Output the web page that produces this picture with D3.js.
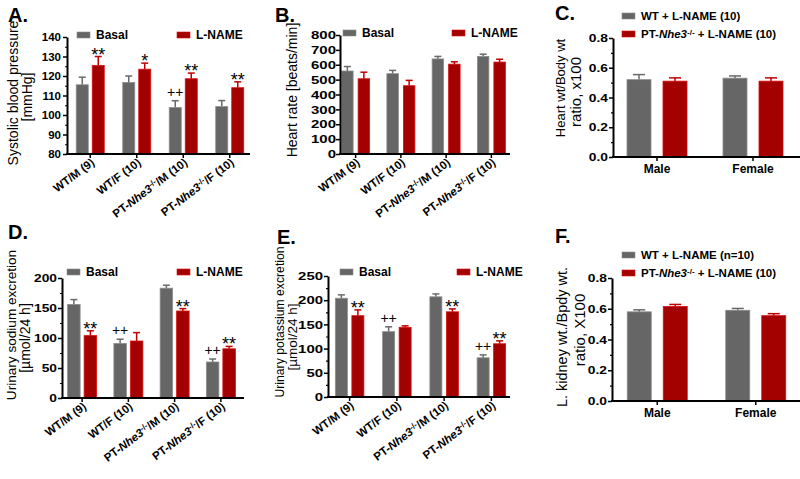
<!DOCTYPE html>
<html>
<head>
<meta charset="utf-8">
<script src="https://cdn.jsdelivr.net/npm/d3@7"></script>
<style>
  body { margin: 0; background: #fff; }
  svg text { font-family: Arial, "Liberation Sans", Helvetica, sans-serif; }
</style>
</head>
<body>
<div id="chart"></div>
<script>
var width = 800, height = 479;

// ---- data ----
var genoLabels = ["WT/M (9)", "WT/F (10)", "PT-Nhe3-/-/M (10)", "PT-Nhe3-/-/F (10)"];
var sexLabels = ["Male", "Female"];
var seriesTreat = ["Basal", "L-NAME"];
var seriesGeno = ["WT + L-NAME (10)", "PT-Nhe3-/- + L-NAME (10)"];
var seriesGenoF = ["WT + L-NAME (n=10)", "PT-Nhe3-/- + L-NAME (10)"];

// A. systolic blood pressure
var sbpBasal = [115.5, 116.7, 103.8, 104.3];
var sbpBasalErr = [3.9, 3.3, 3.5, 3.1];
var sbpLname = [125.4, 123.5, 118.6, 114.0];
var sbpLnameErr = [4.6, 3.1, 2.9, 3.0];
var sbpBasalSig = ["", "", "++", ""];
var sbpLnameSig = ["**", "*", "**", "**"];

// B. heart rate
var hrBasal = [558, 540, 639, 656];
var hrBasalErr = [30, 22, 17, 15];
var hrLname = [506, 459, 604, 618];
var hrLnameErr = [44, 36, 16, 19];

// C. heart wt / body wt
var hwWT = [0.52, 0.53];
var hwWTErr = [0.034, 0.015];
var hwKO = [0.51, 0.51];
var hwKOErr = [0.022, 0.022];

// D. urinary sodium
var naBasal = [156, 91, 183, 60];
var naBasalErr = [8, 7, 5, 5];
var naLname = [104, 95, 145, 82];
var naLnameErr = [8, 14, 4, 4];
var naBasalSig = ["", "++", "", "++"];
var naLnameSig = ["**", "", "**", "**"];

// E. urinary potassium
var kBasal = [204, 135, 207, 81];
var kBasalErr = [7, 10, 6, 6];
var kLname = [168, 144, 176, 110];
var kLnameErr = [12, 3, 6, 6];
var kBasalSig = ["", "++", "", "++"];
var kLnameSig = ["**", "", "**", "**"];

// F. kidney wt / body wt
var kwWT = [0.58, 0.59];
var kwWTErr = [0.013, 0.012];
var kwKO = [0.615, 0.555];
var kwKOErr = [0.013, 0.013];

var GRAY = "#666666", RED = "#a30000";

var svg = d3.select("#chart").append("svg")
  .attr("width", width).attr("height", height);

// write a label, italic gene name + superscript -/-
function richText(sel, str) {
  var m = str.match(/^(.*?)(Nhe3)(-\/-)(.*)$/);
  if (!m) { sel.text(str); return; }
  sel.append("tspan").text(m[1]);
  sel.append("tspan").style("font-style", "italic").text(m[2]);
  sel.append("tspan").attr("dy", "-0.45em").style("font-size", "0.7em").text(m[3]);
  sel.append("tspan").attr("dy", "0.32em").text(m[4]);
}

function drawPanel(p) {
  var g = svg.append("g");

  var y = d3.scaleLinear().domain(p.domain).range([p.yBot, p.yTop]);
  var x = d3.scaleBand().domain(p.cats).range(p.band);

  // bars
  p.series.forEach(function(s, si) {
    var off = si == 0 ? -p.gap / 2 - p.barW : p.gap / 2;
    var col = si == 0 ? GRAY : RED;
    var ecol = si == 0 ? "#6a6a6a" : "#c00000";
    p.cats.forEach(function(c, i) {
      var cx = x(c) + x.bandwidth() / 2;
      var bx = cx + off;
      var top = y(s.vals[i]), etop = y(s.vals[i] + s.err[i]);
      // error bar (upper only)
      g.append("line").attr("x1", bx + p.barW / 2).attr("x2", bx + p.barW / 2)
        .attr("y1", top).attr("y2", etop).attr("stroke", ecol).attr("stroke-width", 1.5);
      g.append("line").attr("x1", bx + p.barW / 2 - p.capW / 2).attr("x2", bx + p.barW / 2 + p.capW / 2)
        .attr("y1", etop).attr("y2", etop).attr("stroke", ecol).attr("stroke-width", 1.5);
      g.append("rect")
        .attr("x", bx).attr("y", top)
        .attr("width", p.barW).attr("height", p.yBot - top)
        .attr("fill", col)
        .attr("stroke", si == 0 ? "#8c8c8c" : "#d81010").attr("stroke-width", 0.8);
      if (s.sig && s.sig[i]) {
        var plus = s.sig[i].indexOf("+") >= 0;
        g.append("text").attr("x", bx + p.barW / 2)
          .attr("y", plus ? etop - 4 : etop + 4)
          .attr("text-anchor", "middle")
          .style("font-size", plus ? "14px" : "18px")
          .style("fill", "#000")
          .text(s.sig[i]);
      }
    });
  });

  // y axis
  var yAxis = d3.axisLeft(y).tickValues(p.ticks).tickSize(4).tickSizeOuter(0)
    .tickFormat(p.fmt);
  var ya = g.append("g").attr("transform", "translate(" + p.x0 + ",0)").call(yAxis);
  ya.select(".domain").attr("stroke-width", 2);
  ya.selectAll(".tick line").attr("stroke-width", 1.5);
  ya.selectAll(".tick text").style("font-size", "11.5px").style("font-weight", "bold")
    .attr("x", -p.labelGap / p.stretch)
    .attr("transform", "scale(" + p.stretch + ",1)")
    .attr("fill", "#000");
  if (p.minor) {
    var ym = g.append("g").attr("transform", "translate(" + p.x0 + ",0)")
      .call(d3.axisLeft(y).tickValues(p.minor).tickSize(2).tickFormat(""));
    ym.select(".domain").remove();
    ym.selectAll(".tick line").attr("stroke-width", 1.2);
  }

  // x axis
  g.append("line").attr("x1", p.x0 - 1).attr("x2", p.axisEnd)
    .attr("y1", p.yBot).attr("y2", p.yBot).attr("stroke", "#000").attr("stroke-width", 2);
  var xa = g.append("g").attr("transform", "translate(0," + p.yBot + ")")
    .call(d3.axisBottom(x).tickSize(4).tickSizeOuter(0).tickFormat(""));
  xa.select(".domain").remove();
  xa.selectAll(".tick line").attr("stroke-width", 1.5);

  p.cats.forEach(function(c, i) {
    var cx = x(c) + x.bandwidth() / 2;
    var t = g.append("text").style("font-weight", "bold").style("fill", "#000");
    if (p.rotate) {
      t.attr("text-anchor", "end").style("font-size", "11.5px")
        .attr("transform", "translate(" + (cx + 5) + "," + (p.yBot + 10) + ") rotate(-37)");
    } else {
      t.attr("text-anchor", "middle").style("font-size", "12px")
        .attr("x", cx).attr("y", p.yBot + 16);
    }
    richText(t, p.labels[i]);
  });

  // y title, each line with its own centre and size
  p.title.forEach(function(line, li) {
    g.append("text").attr("text-anchor", "middle")
      .attr("transform", "translate(" + p.titleX[li] + "," + p.titleY[li] + ") rotate(-90)")
      .attr("dy", "0.3em")
      .style("font-size", p.titleSize[li] + "px").style("fill", "#000")
      .text(line);
  });

  // legend
  p.legend.forEach(function(l, li) {
    g.append("rect").attr("x", l.x).attr("y", l.y - 3).attr("width", 13).attr("height", 6)
      .attr("fill", li == 0 ? GRAY : RED).attr("stroke", li == 0 ? "#8c8c8c" : "#d81010").attr("stroke-width", 0.6);
    var t = g.append("text").attr("x", l.x + 19).attr("y", l.y).attr("dy", "0.36em")
      .style("font-size", p.legendSize).style("font-weight", "bold").style("fill", "#000");
    richText(t, l.text);
  });

  // panel letter
  svg.append("text").attr("x", p.letter[0]).attr("y", p.letter[1])
    .style("font-size", "20px").style("font-weight", "bold").style("fill", "#000")
    .text(p.letter[2]);
}

function fmtInt(d) { return d3.format("d")(d); }
function fmtDec(d) { return d3.format(".1f")(d); }

drawPanel({
  cats: genoLabels, labels: genoLabels, rotate: true,
  series: [{vals: sbpBasal, err: sbpBasalErr, sig: sbpBasalSig}, {vals: sbpLname, err: sbpLnameErr, sig: sbpLnameSig}],
  domain: [80, 140], ticks: d3.range(80, 141, 10), minor: d3.range(85, 140, 10), fmt: fmtInt, stretch: 1.0, labelGap: 6,
  x0: 67, axisEnd: 250, yTop: 37, yBot: 154, band: [67, 253], barW: 12, gap: 4, capW: 7,
  title: ["Systolic blood pressure", "[mmHg]"], titleX: [14, 28], titleY: [93, 97], titleSize: [14, 14],
  legend: [{x: 77, y: 35, text: seriesTreat[0]}, {x: 177, y: 35, text: seriesTreat[1]}], legendSize: "12px",
  letter: [8, 22, "A."]
});

drawPanel({
  cats: genoLabels, labels: genoLabels, rotate: true,
  series: [{vals: hrBasal, err: hrBasalErr}, {vals: hrLname, err: hrLnameErr}],
  domain: [0, 800], ticks: d3.range(0, 801, 100), minor: null, fmt: fmtInt, stretch: 1.3, labelGap: 4,
  x0: 340, axisEnd: 510, yTop: 35, yBot: 154, band: [333, 514], barW: 11.5, gap: 5, capW: 7,
  title: ["Heart rate [beats/min]"], titleX: [293], titleY: [90], titleSize: [14],
  legend: [{x: 343, y: 33, text: seriesTreat[0]}, {x: 452, y: 33, text: seriesTreat[1]}], legendSize: "12px",
  letter: [275, 22, "B."]
});

drawPanel({
  cats: sexLabels, labels: sexLabels, rotate: false,
  series: [{vals: hwWT, err: hwWTErr}, {vals: hwKO, err: hwKOErr}],
  domain: [0, 0.8], ticks: [0, 0.2, 0.4, 0.6, 0.8], minor: [0.1, 0.3, 0.5, 0.7], fmt: fmtDec, stretch: 1.2, labelGap: 5,
  x0: 613, axisEnd: 800, yTop: 38, yBot: 157, band: [609, 801], barW: 24, gap: 12, capW: 12,
  title: ["Heart wt/Body wt", "ratio, x100"], titleX: [561, 576], titleY: [88, 92], titleSize: [13, 15],
  legend: [{x: 622, y: 16, text: seriesGeno[0]}, {x: 622, y: 34, text: seriesGeno[1]}], legendSize: "11.5px",
  letter: [555, 20, "C."]
});

drawPanel({
  cats: genoLabels, labels: genoLabels, rotate: true,
  series: [{vals: naBasal, err: naBasalErr, sig: naBasalSig}, {vals: naLname, err: naLnameErr, sig: naLnameSig}],
  domain: [0, 200], ticks: d3.range(0, 201, 50), minor: d3.range(25, 200, 50), fmt: fmtInt, stretch: 1.2, labelGap: 5,
  x0: 62, axisEnd: 244, yTop: 278, yBot: 398, band: [59, 244], barW: 12.5, gap: 4, capW: 7,
  title: ["Urinary sodium excretion", "[µmol/24 h]"], titleX: [12, 26], titleY: [325, 338], titleSize: [13.6, 14],
  legend: [{x: 67, y: 272, text: seriesTreat[0]}, {x: 177, y: 272, text: seriesTreat[1]}], legendSize: "12px",
  letter: [8, 239, "D."]
});

drawPanel({
  cats: genoLabels, labels: genoLabels, rotate: true,
  series: [{vals: kBasal, err: kBasalErr, sig: kBasalSig}, {vals: kLname, err: kLnameErr, sig: kLnameSig}],
  domain: [0, 250], ticks: d3.range(0, 251, 50), minor: d3.range(25, 250, 50), fmt: fmtInt, stretch: 1.3, labelGap: 5,
  x0: 328, axisEnd: 510, yTop: 276, yBot: 397, band: [326, 515], barW: 12, gap: 4.5, capW: 7,
  title: ["Urinary potassium excretion", "[µmol/24 h]"], titleX: [280, 293], titleY: [322, 337], titleSize: [12.2, 13.5],
  legend: [{x: 340, y: 272, text: seriesTreat[0]}, {x: 457, y: 272, text: seriesTreat[1]}], legendSize: "12px",
  letter: [277, 244, "E."]
});

drawPanel({
  cats: sexLabels, labels: sexLabels, rotate: false,
  series: [{vals: kwWT, err: kwWTErr}, {vals: kwKO, err: kwKOErr}],
  domain: [0, 0.8], ticks: [0, 0.2, 0.4, 0.6, 0.8], minor: [0.1, 0.3, 0.5, 0.7], fmt: fmtDec, stretch: 1.2, labelGap: 5,
  x0: 612, axisEnd: 800, yTop: 278, yBot: 401, band: [608, 805], barW: 24, gap: 12, capW: 12,
  title: ["L. kidney wt./Bpdy wt.", "ratio, X100"], titleX: [563, 580], titleY: [337, 330], titleSize: [14.5, 15],
  legend: [{x: 622, y: 255, text: seriesGenoF[0]}, {x: 622, y: 273, text: seriesGenoF[1]}], legendSize: "11.5px",
  letter: [555, 243, "F."]
});
</script>
</body>
</html>
